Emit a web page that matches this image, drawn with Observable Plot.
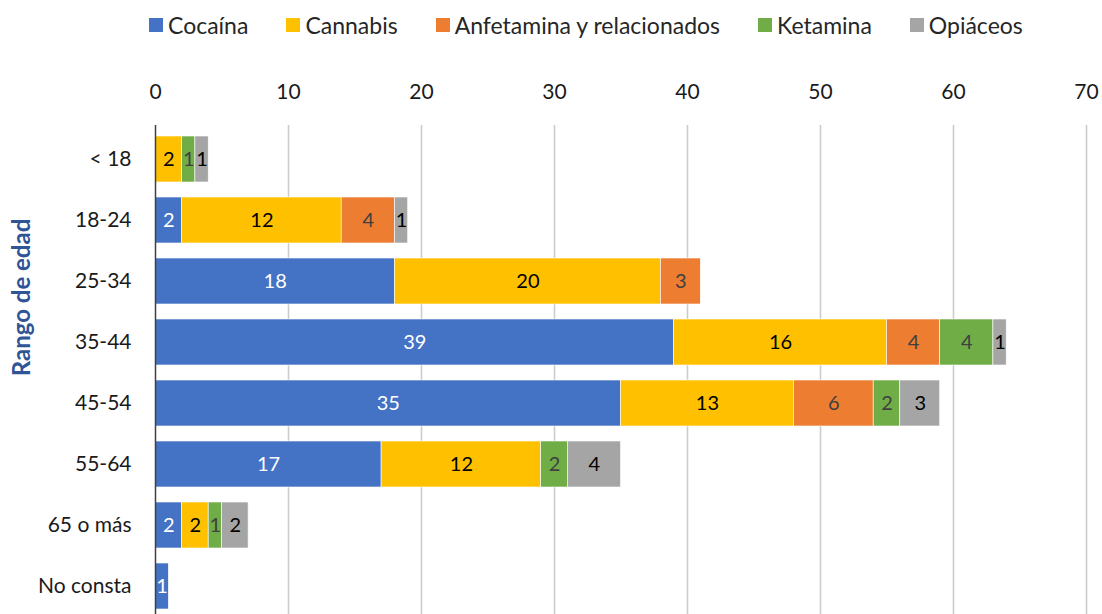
<!DOCTYPE html>
<html><head><meta charset="utf-8">
<script src="https://cdn.jsdelivr.net/npm/d3@7"></script>
<script src="https://cdn.jsdelivr.net/npm/@observablehq/plot@0.6"></script>
<style>
html,body{margin:0;padding:0;background:#fff;overflow:hidden;font-family:Lato,sans-serif;}
#legend{height:50px;display:flex;align-items:center;padding-left:149px;gap:38px;font-size:23px;color:#262626;}
.item{display:flex;align-items:center;gap:5px;white-space:nowrap;}
.sw{width:14px;height:14px;display:inline-block;}
#chart svg{display:block;}
</style></head><body>
<div id="legend"></div><div id="chart"></div>
<script>
const ages = ["< 18","18-24","25-34","35-44","45-54","55-64","65 o más","No consta"];
const drugs = ["Cocaína","Cannabis","Anfetamina y relacionados","Ketamina","Opiáceos"];
const colors = ["#4472C4","#FFC000","#ED7D31","#70AD47","#A5A5A5"];
const labelColors = ["#ffffff","#000000","#404040","#404040","#000000"];
const cocaina    = [0, 2, 18, 39, 35, 17, 2, 1];
const cannabis   = [2, 12, 20, 16, 13, 12, 2, 0];
const anfetamina = [0, 4, 3, 4, 6, 0, 0, 0];
const ketamina   = [1, 0, 0, 4, 2, 2, 1, 0];
const opiaceos   = [1, 1, 0, 1, 3, 4, 2, 0];
const xTicks = [0, 10, 20, 30, 40, 50, 60, 70];
const yTitle = "Rango de edad";

const series = [cocaina, cannabis, anfetamina, ketamina, opiaceos];
const rows = [];
ages.forEach((age, i) => {
  drugs.forEach((drug, j) => {
    const v = series[j][i];
    if (v > 0) rows.push({age, drug, value: v});
  });
});

// legend
const legend = document.getElementById("legend");
drugs.forEach((d, j) => {
  const it = document.createElement("div");
  it.className = "item";
  const sw = document.createElement("span");
  sw.className = "sw";
  sw.style.background = colors[j];
  const t = document.createElement("span");
  t.textContent = d;
  it.appendChild(sw); it.appendChild(t);
  legend.appendChild(it);
});

const labelMarks = drugs.map((k, j) =>
  Plot.text(rows, Plot.stackX({
    x: "value", y: "age", z: "drug",
    text: d => d.drug === k ? String(d.value) : null,
    fill: labelColors[j], fontSize: 20
  }))
);

const chart = Plot.plot({
  width: 1102, height: 569,
  marginLeft: 155, marginRight: 16, marginTop: 75, marginBottom: 0,
  style: {fontFamily: "Lato, sans-serif", fontSize: "21px", color: "#1a1a1a", background: "white"},
  x: {domain: [0, 70], axis: null},
  y: {domain: ages, paddingInner: 0.25, paddingOuter: 0.125, axis: null},
  color: {domain: drugs, range: colors},
  marks: [
    Plot.ruleX(xTicks.filter(d => d > 0), {stroke: "#cccccc", strokeWidth: 1.6}),
    Plot.barX(rows, Plot.stackX({x: "value", y: "age", fill: "drug", z: "drug", stroke: "white", strokeWidth: 0.6})),
    ...labelMarks,
    Plot.ruleX([0], {stroke: "#404040", strokeWidth: 1.5}),
    Plot.axisX({anchor: "top", ticks: xTicks, tickSize: 0, tickPadding: 27, label: null, fontSize: 21}),
    Plot.axisY({tickSize: 0, tickPadding: 24, label: null, fontSize: 21}),
    Plot.text([yTitle], {frameAnchor: "top-left", textAnchor: "middle", lineAnchor: "middle", rotate: -90, dx: -133, dy: 172, fontWeight: "bold", fill: "#2F5597", fontSize: 24})
  ]
});
document.getElementById("chart").appendChild(chart);
</script>
</body></html>
